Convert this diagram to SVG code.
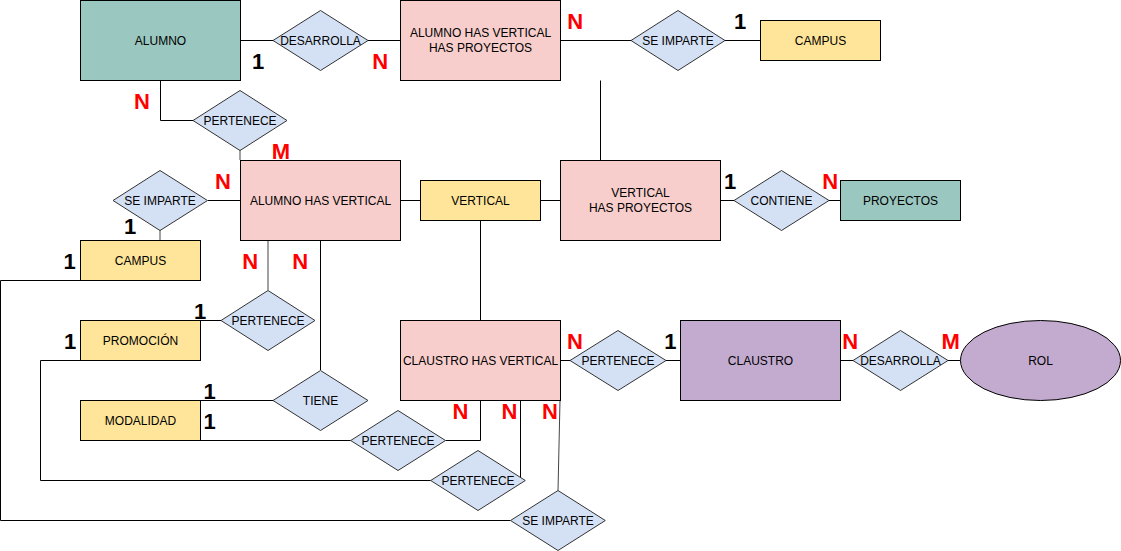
<svg xmlns="http://www.w3.org/2000/svg" width="1121" height="551" viewBox="0 0 1121 551">
<style>
.t{font-family:"Liberation Sans",Arial,sans-serif;font-size:12px;fill:#000;text-anchor:middle}
.c{font-family:"Liberation Sans",Arial,sans-serif;font-size:22px;font-weight:bold;text-anchor:middle}
.r{fill:#ff0000}
.k{fill:#000}
.teal{fill:#9AC7BF;stroke:#000;stroke-width:1}
.pink{fill:#F8CECC;stroke:#000;stroke-width:1}
.yel{fill:#FFE599;stroke:#000;stroke-width:1}
.pur{fill:#C3ABD0;stroke:#000;stroke-width:1}
.dia{fill:#D4E1F5;stroke:#333;stroke-width:1}
.ln{fill:none;stroke:#000;stroke-width:1}
.lg{fill:none;stroke:#444;stroke-width:1}
</style>
<rect width="1121" height="551" fill="#fff"/>
<g id="connectors">
<path class="ln" d="M240.5,40.5H273"/>
<path class="ln" d="M368,40.5H400.5"/>
<path class="ln" d="M560.5,40.5H631"/>
<path class="ln" d="M725,40.5H760.5"/>
<path class="ln" d="M600.5,80.5V160.5"/>
<path class="ln" d="M160.5,80.5V120.5H193"/>
<path class="lg" d="M240,150V160"/>
<path class="ln" d="M208,200.5H240.5"/>
<path class="lg" d="M160,230V240"/>
<path class="ln" d="M400.5,200.5H420.5"/>
<path class="ln" d="M540.5,200.5H560.5"/>
<path class="ln" d="M720.5,200.5H734"/>
<path class="ln" d="M829,200.5H840.5"/>
<path class="ln" d="M480.5,220.5V320.5"/>
<path class="ln" d="M80.5,280.5H0.5V520.5H510.5"/>
<path class="lg" d="M558,490.5L560,400.5"/>
<path class="ln" d="M200.5,320.5H221"/>
<path class="lg" d="M268,290V240.5"/>
<path class="ln" d="M80.5,360.5H40.5V480.5H430.7"/>
<path class="ln" d="M520.5,400.5V477"/>
<path class="ln" d="M200.5,400.5H273"/>
<path class="ln" d="M320.5,370V240.5"/>
<path class="ln" d="M200.5,440.5H350.7"/>
<path class="ln" d="M445.5,440.5H480.5V400.5"/>
<path class="ln" d="M560.5,360.5H570"/>
<path class="ln" d="M666,360.5H680.5"/>
<path class="ln" d="M840.5,360.5H853"/>
<path class="ln" d="M948,360.5H960.5"/>
</g>
<g id="alumno"><rect class="teal" x="80.5" y="0.5" width="160" height="80"/><text class="t" x="160.5" y="44.5">ALUMNO</text></g>
<g id="desarrolla1"><polygon class="dia" points="273,40.5 320.5,10.5 368,40.5 320.5,70.5"/><text class="t" x="320.5" y="44.5">DESARROLLA</text></g>
<g id="ahvhp"><rect class="pink" x="400.5" y="0.5" width="160" height="80"/><text class="t" x="480.5" y="37">ALUMNO HAS VERTICAL</text><text class="t" x="480.5" y="51.5">HAS PROYECTOS</text></g>
<g id="seimparte1"><polygon class="dia" points="631,40.5 678,10.5 725,40.5 678,70.5"/><text class="t" x="678" y="44.5">SE IMPARTE</text></g>
<g id="campus1"><rect class="yel" x="760.5" y="20.5" width="120" height="40"/><text class="t" x="820.5" y="44.5">CAMPUS</text></g>
<g id="pertenece1"><polygon class="dia" points="193,120.5 240,90.5 287,120.5 240,150.5"/><text class="t" x="240" y="124.5">PERTENECE</text></g>
<g id="seimparte2"><polygon class="dia" points="113,200.5 160,170.5 207.5,200.5 160,230.5"/><text class="t" x="160" y="204.5">SE IMPARTE</text></g>
<g id="ahv"><rect class="pink" x="240.5" y="160.5" width="160" height="80"/><text class="t" x="320.5" y="204.5">ALUMNO HAS VERTICAL</text></g>
<g id="vertical"><rect class="yel" x="420.5" y="180.5" width="120" height="40"/><text class="t" x="480.5" y="204.5">VERTICAL</text></g>
<g id="vhp"><rect class="pink" x="560.5" y="160.5" width="160" height="80"/><text class="t" x="640.5" y="197">VERTICAL</text><text class="t" x="640.5" y="211.5">HAS PROYECTOS</text></g>
<g id="contiene"><polygon class="dia" points="734,200.5 781.5,170.5 829,200.5 781.5,230.5"/><text class="t" x="781.5" y="204.5">CONTIENE</text></g>
<g id="proyectos"><rect class="teal" x="840.5" y="180.5" width="120" height="40"/><text class="t" x="900.5" y="204.5">PROYECTOS</text></g>
<g id="campus2"><rect class="yel" x="80.5" y="240.5" width="120" height="40"/><text class="t" x="140.5" y="264.5">CAMPUS</text></g>
<g id="promocion"><rect class="yel" x="80.5" y="320.5" width="120" height="40"/><text class="t" x="140.5" y="344.5">PROMOCIÓN</text></g>
<g id="pertenece2"><polygon class="dia" points="221,320.5 268,290.5 315,320.5 268,350.5"/><text class="t" x="268" y="324.5">PERTENECE</text></g>
<g id="modalidad"><rect class="yel" x="80.5" y="400.5" width="120" height="40"/><text class="t" x="140.5" y="424.5">MODALIDAD</text></g>
<g id="tiene"><polygon class="dia" points="273,400.5 320.5,370.5 368,400.5 320.5,430.5"/><text class="t" x="320.5" y="404.5">TIENE</text></g>
<g id="pertenece3"><polygon class="dia" points="350.7,440.5 398,410.5 445.5,440.5 398,470.5"/><text class="t" x="398" y="444.5">PERTENECE</text></g>
<g id="pertenece4"><polygon class="dia" points="430.7,480.5 478,450.5 525.3,480.5 478,510.5"/><text class="t" x="478" y="484.5">PERTENECE</text></g>
<g id="seimparte3"><polygon class="dia" points="510.5,520.5 558,490.5 605.3,520.5 558,550.5"/><text class="t" x="558" y="524.5">SE IMPARTE</text></g>
<g id="chv"><rect class="pink" x="400.5" y="320.5" width="160" height="80"/><text class="t" x="480.5" y="364.5">CLAUSTRO HAS VERTICAL</text></g>
<g id="pertenece5"><polygon class="dia" points="570,360.5 618,330.5 666,360.5 618,390.5"/><text class="t" x="618" y="364.5">PERTENECE</text></g>
<g id="claustro"><rect class="pur" x="680.5" y="320.5" width="160" height="80"/><text class="t" x="760.5" y="364.5">CLAUSTRO</text></g>
<g id="desarrolla2"><polygon class="dia" points="853,360.5 900.5,330.5 948,360.5 900.5,390.5"/><text class="t" x="900.5" y="364.5">DESARROLLA</text></g>
<g id="rol"><ellipse class="pur" cx="1040.5" cy="360.5" rx="80" ry="40"/><text class="t" x="1040.5" y="364.5">ROL</text></g>
<g id="cardinalities">
<text class="c k" x="258" y="69">1</text>
<text class="c r" x="380.3" y="69">N</text>
<text class="c r" x="575.3" y="29">N</text>
<text class="c k" x="740" y="29">1</text>
<text class="c r" x="142" y="109">N</text>
<text class="c r" x="281" y="159">M</text>
<text class="c r" x="223" y="189">N</text>
<text class="c k" x="130" y="234">1</text>
<text class="c k" x="730" y="189">1</text>
<text class="c r" x="830.3" y="189">N</text>
<text class="c k" x="69.5" y="269">1</text>
<text class="c r" x="250.3" y="269">N</text>
<text class="c r" x="300.3" y="269">N</text>
<text class="c k" x="200" y="319">1</text>
<text class="c k" x="70" y="349">1</text>
<text class="c k" x="209.5" y="399">1</text>
<text class="c k" x="209.5" y="429">1</text>
<text class="c r" x="575" y="349">N</text>
<text class="c k" x="670.3" y="349">1</text>
<text class="c r" x="850.3" y="349">N</text>
<text class="c r" x="950.6" y="349">M</text>
<text class="c r" x="460.5" y="418.5">N</text>
<text class="c r" x="509.5" y="418.5">N</text>
<text class="c r" x="550" y="418.5">N</text>
</g>
</svg>
